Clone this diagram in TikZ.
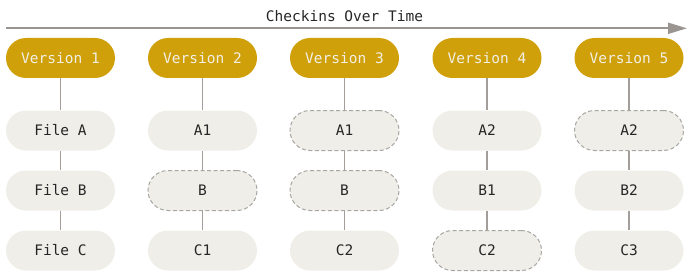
\documentclass[tikz,border=0pt]{standalone}
\usepackage{fontspec}
\setmonofont{DejaVu Sans Mono}
\usetikzlibrary{arrows.meta}
\definecolor{gold}{HTML}{CFA00A}
\definecolor{goldtext}{HTML}{F2EFE6}
\definecolor{filefill}{HTML}{EFEEE8}
\definecolor{linegray}{HTML}{A39E99}
\definecolor{arrowgray}{HTML}{9A9590}
\definecolor{dashgray}{HTML}{A8A6A2}
\definecolor{textdark}{HTML}{262626}
\tikzset{
  pill/.style={rectangle, rounded corners=20pt, minimum width=109pt, minimum height=40pt, inner sep=0pt, font=\ttfamily\fontsize{14.5}{16}\selectfont},
  version/.style={pill, fill=gold, text=goldtext},
  filebox/.style={pill, fill=filefill, text=textdark},
  changed/.style={filebox, draw=dashgray, line width=1pt, dash pattern=on 4pt off 2.5pt},
  conn/.style={draw=linegray, line width=1.2pt},
}
\begin{document}
\begin{tikzpicture}[x=1pt,y=-1pt]
\useasboundingbox (0,0) rectangle (691,278);
\coordinate (ts) at (6,28.3);
\coordinate (te) at (687,28.3);
\draw[arrowgray, line width=2pt, -{Triangle[length=19pt,width=11pt]}] (ts) -- (te);
\node[font=\ttfamily\fontsize{14.5}{16}\selectfont, text=textdark] (title) at (344.5,16.5) {Checkins Over Time};
% column 1
\node[version] (v1) at (60.5,58) {Version 1};
\node[filebox] (a1) at (60.5,130.5) {File A};
\node[filebox] (b1) at (60.5,190.5) {File B};
\node[filebox] (c1) at (60.5,250.5) {File C};
% column 2
\node[version] (v2) at (202.5,58) {Version 2};
\node[filebox] (a2) at (202.5,130.5) {A1};
\node[changed] (b2) at (202.5,190.5) {B};
\node[filebox] (c2) at (202.5,250.5) {C1};
% column 3
\node[version] (v3) at (344.5,58) {Version 3};
\node[changed] (a3) at (344.5,130.5) {A1};
\node[changed] (b3) at (344.5,190.5) {B};
\node[filebox] (c3) at (344.5,250.5) {C2};
% column 4
\node[version] (v4) at (487,58) {Version 4};
\node[filebox] (a4) at (487,130.5) {A2};
\node[filebox] (b4) at (487,190.5) {B1};
\node[changed] (c4) at (487,250.5) {C2};
% column 5
\node[version] (v5) at (629,58) {Version 5};
\node[changed] (a5) at (629,130.5) {A2};
\node[filebox] (b5) at (629,190.5) {B2};
\node[filebox] (c5) at (629,250.5) {C3};
\foreach \i in {1,...,5}{
  \draw[conn] (v\i) -- (a\i);
  \draw[conn] (a\i) -- (b\i);
  \draw[conn] (b\i) -- (c\i);
}
\end{tikzpicture}
\end{document}
